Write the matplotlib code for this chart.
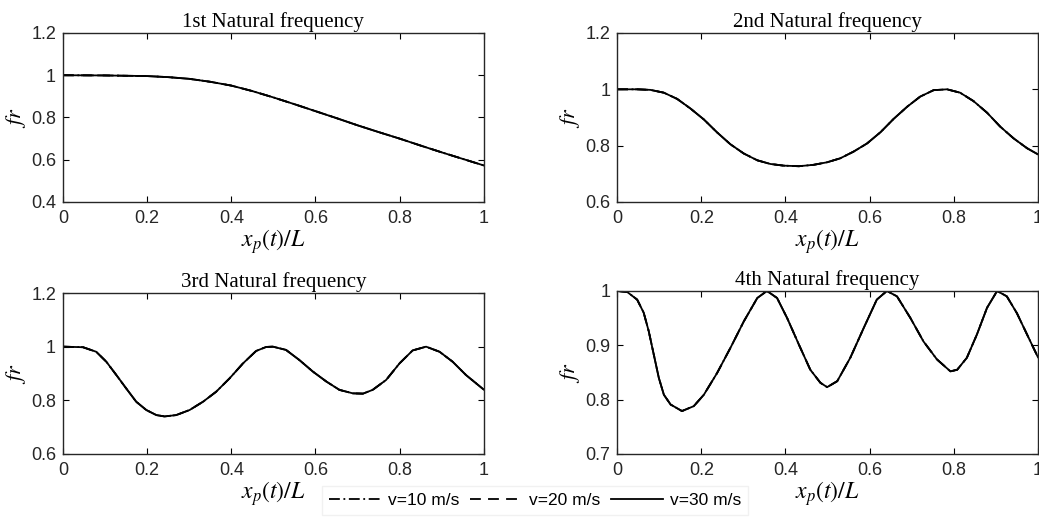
import matplotlib
matplotlib.use("Agg")
import matplotlib.pyplot as plt

plt.rcParams["font.family"] = "Liberation Sans"
plt.rcParams["mathtext.fontset"] = "stix"

# series values (the three speeds overlap)
x1 = [0, 0.1, 0.2, 0.25, 0.3, 0.35, 0.4, 0.45, 0.5, 0.55, 0.6, 0.65, 0.7,
      0.75, 0.8, 0.85, 0.9, 0.95, 1.0]
fr1 = [1.0, 0.999, 0.996, 0.991, 0.983, 0.969, 0.951, 0.925, 0.895, 0.863,
       0.83, 0.797, 0.763, 0.731, 0.70, 0.667, 0.635, 0.604, 0.573]

x2 = [0, 0.0475, 0.079, 0.111, 0.1425, 0.174, 0.206, 0.2375, 0.269, 0.301,
      0.333, 0.364, 0.396, 0.432, 0.467, 0.499, 0.530, 0.562, 0.594, 0.626,
      0.657, 0.689, 0.720, 0.752, 0.784, 0.815, 0.847, 0.879, 0.910, 0.942,
      0.974, 1.0]
fr2 = [1.0, 1.0, 0.998, 0.988, 0.966, 0.932, 0.893, 0.847, 0.805, 0.772,
       0.748, 0.735, 0.729, 0.727, 0.732, 0.741, 0.755, 0.779, 0.808, 0.848,
       0.895, 0.938, 0.974, 0.997, 1.0, 0.988, 0.958, 0.917, 0.868, 0.826,
       0.791, 0.769]

x3 = [0, 0.0475, 0.079, 0.103, 0.127, 0.150, 0.174, 0.198, 0.222, 0.2415,
      0.269, 0.301, 0.333, 0.364, 0.396, 0.428, 0.459, 0.483, 0.499, 0.530,
      0.562, 0.594, 0.626, 0.657, 0.689, 0.713, 0.736, 0.768, 0.800, 0.831,
      0.863, 0.895, 0.926, 0.958, 1.0]
fr3 = [1.0, 0.998, 0.981, 0.944, 0.894, 0.845, 0.795, 0.764, 0.745, 0.740,
       0.745, 0.764, 0.795, 0.832, 0.882, 0.938, 0.984, 0.999, 1.0, 0.988,
       0.950, 0.907, 0.870, 0.839, 0.826, 0.825, 0.839, 0.876, 0.938, 0.986,
       1.0, 0.981, 0.944, 0.894, 0.840]

x4 = [0, 0.024, 0.0475, 0.063, 0.075, 0.087, 0.099, 0.111, 0.127, 0.154,
      0.182, 0.206, 0.2375, 0.269, 0.301, 0.333, 0.356, 0.380, 0.404, 0.432,
      0.459, 0.483, 0.499, 0.523, 0.554, 0.586, 0.617, 0.641, 0.665, 0.697,
      0.728, 0.760, 0.792, 0.808, 0.831, 0.855, 0.879, 0.903, 0.926, 0.950,
      0.974, 1.0]
fr4 = [1.0, 0.998, 0.984, 0.960, 0.926, 0.883, 0.840, 0.809, 0.791, 0.779,
       0.788, 0.809, 0.849, 0.895, 0.944, 0.987, 1.0, 0.987, 0.950, 0.901,
       0.855, 0.831, 0.823, 0.834, 0.877, 0.932, 0.984, 1.0, 0.990, 0.950,
       0.907, 0.874, 0.852, 0.855, 0.877, 0.920, 0.969, 1.0, 0.990, 0.959,
       0.920, 0.878]

titles = ["1st Natural frequency", "2nd Natural frequency",
          "3rd Natural frequency", "4th Natural frequency"]
speeds = ["v=10 m/s", "v=20 m/s", "v=30 m/s"]
styles = [(0, (6, 2, 1, 2)), (0, (6, 4)), "-"]
ylims = [(0.4, 1.2), (0.6, 1.2), (0.6, 1.2), (0.7, 1.0)]
yticks = [[0.4, 0.6, 0.8, 1, 1.2], [0.6, 0.8, 1, 1.2], [0.6, 0.8, 1, 1.2],
          [0.7, 0.8, 0.9, 1]]
ytick_labels = [["0.4", "0.6", "0.8", "1", "1.2"], ["0.6", "0.8", "1", "1.2"],
                ["0.6", "0.8", "1", "1.2"], ["0.7", "0.8", "0.9", "1"]]
xs = [x1, x2, x3, x4]
frs = [fr1, fr2, fr3, fr4]

positions = [
    [0.0606, 0.6123, 0.405, 0.3244],
    [0.594, 0.6123, 0.405, 0.3244],
    [0.0606, 0.1286, 0.405, 0.309],
    [0.594, 0.1286, 0.405, 0.313],
]

fig = plt.figure(figsize=(10.39, 5.21), dpi=100)
handles = []
for i in range(4):
    ax = fig.add_axes(positions[i])
    for s in range(3):
        (ln,) = ax.plot(xs[i], frs[i], color="black", linestyle=styles[s],
                        linewidth=1.3, label=speeds[s])
        if i == 0:
            handles.append(ln)
    ax.set_xlim(0, 1)
    ax.set_ylim(*ylims[i])
    ax.set_xticks([0, 0.2, 0.4, 0.6, 0.8, 1])
    ax.set_xticklabels(["0", "0.2", "0.4", "0.6", "0.8", "1"])
    ax.set_yticks(yticks[i])
    ax.set_yticklabels(ytick_labels[i])
    ax.tick_params(direction="in", top=True, right=True, labelsize=13,
                   labelcolor="#262626", length=4, width=0.8)
    ax.tick_params(axis="x", pad=6)
    ax.tick_params(axis="y", pad=5)
    for sp in ax.spines.values():
        sp.set_linewidth(1.0)
        sp.set_color("#262626")
    ax.set_title(titles[i], fontfamily="Liberation Serif", fontsize=15,
                 pad=4)
    ax.set_xlabel("$x_p(t)/L$", fontsize=17, labelpad=0)
    ax.set_ylabel("$fr$", fontsize=16, labelpad=2)

fig.legend(handles=handles, labels=speeds, loc="lower center",
           bbox_to_anchor=(0.515, -0.005), ncol=3, fontsize=12.5,
           frameon=True, fancybox=False, edgecolor="#eeeeee",
           handlelength=3.0, handletextpad=0.4, columnspacing=0.6,
           borderpad=0.4)

fig.savefig("out.png", dpi=100)
